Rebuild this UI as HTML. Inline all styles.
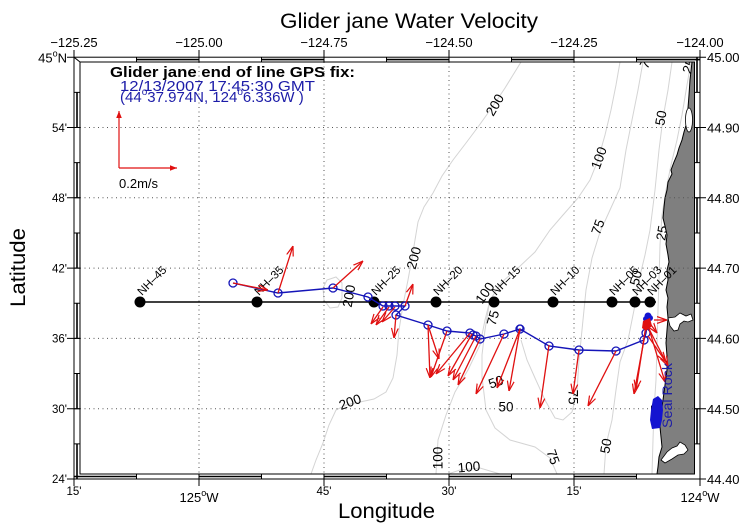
<!DOCTYPE html>
<html>
<head>
<meta charset="utf-8">
<style>
html,body{margin:0;padding:0;background:#fff;}
svg{display:block;}
text{font-family:"Liberation Sans",Arial,Helvetica,sans-serif;}
</style>
</head>
<body>
<svg width="750" height="528" viewBox="0 0 750 528" xmlns="http://www.w3.org/2000/svg">
<defs>
  <clipPath id="map"><rect x="80" y="62" width="614.5" height="412"/></clipPath>
  <marker id="ah" viewBox="0 0 10 8" refX="10" refY="4" markerWidth="10" markerHeight="8" markerUnits="userSpaceOnUse" orient="auto">
    <path d="M0,0.6 L10,4 L0,7.4" fill="none" stroke="#e01010" stroke-width="1.2"/>
  </marker>
  <marker id="ahs" viewBox="0 0 10 8" refX="10" refY="4" markerWidth="7" markerHeight="6" markerUnits="userSpaceOnUse" orient="auto">
    <path d="M0,0 L10,4 L0,8 Z" fill="#e01010"/>
  </marker>
</defs>
<rect width="750" height="528" fill="#fff"/>

<!-- Title -->
<text x="280" y="28" font-size="21" textLength="258" lengthAdjust="spacingAndGlyphs">Glider jane Water Velocity</text>

<g clip-path="url(#map)">
  <!-- contours -->
  <g fill="none" stroke="#d4d4d4" stroke-width="1">
    <path d="M521,62 L513,75 L505,88 L497,100 L488,113 L478,127 L466,143 L453,160 L442,176 L433,193 L424,207 L418,222 L415,240 L412,258 L408,280 L403,305 L399,330 L397,355 L393,378 L386,392 L374,399 L360,402 L346,405 L336,410 L329,425 L323,443 L316,460 L311,474"/>
    <path d="M327,280 L336,277 L342,283 L342,298 L338,307 L330,308 L324,300 L323,288 Z"/>
    <path d="M620,62 L616,85 L611,110 L605,135 L598,160 L590,180 L578,198 L563,215 L550,230 L535,252 L518,268 L502,282 L490,300 L485,320 L480,345 L468,370 L455,392 L446,415 L438,440 L436,474"/>
    <path d="M448,474 L460,470 L480,468 L500,474"/>
    <path d="M643,62 L638,90 L632,120 L626,150 L620,188 L610,210 L600,232 L592,258 L586,290 L582,330 L579,360 L577,392 L572,412 L563,420 L555,418 L545,400 L535,378 L527,360 L521,340"/>
    <path d="M489,305 L485,330 L482,355 L482,377 L486,410 L495,428 L510,440 L535,447 L550,458 L557,474"/>
    <path d="M672,62 L668,90 L663,118 L659,150 L655,190 L650,230 L645,255 L639,280 L634,310 L628,340 L620,362 L616,390 L612,420 L606,445 L604,474"/>
    <path d="M691,62 L687,85 L682,115 L677,140 L671,165 L666,190 L662,215 L660,245 L659,280 L658,310 L657,345 L656,380 L654,410 L653,440 L652,474"/>
  </g>
  <!-- contour labels -->
  <g font-size="13.5" fill="#000" text-anchor="middle" dominant-baseline="central">
    <text transform="translate(495,105) rotate(-60)">200</text>
    <text transform="translate(414,258) rotate(-75)">200</text>
    <text transform="translate(349,296) rotate(-80)">200</text>
    <text transform="translate(350,402) rotate(-20)">200</text>
    <text transform="translate(599,158) rotate(-70)">100</text>
    <text transform="translate(485,293) rotate(-55)">100</text>
    <text transform="translate(438,458) rotate(-90)">100</text>
    <text transform="translate(469,467) rotate(-5)">100</text>
    <text transform="translate(598,227) rotate(-70)">75</text>
    <text transform="translate(493,318) rotate(-75)">75</text>
    <text transform="translate(573,397) rotate(90)">75</text>
    <text transform="translate(553,457) rotate(70)">75</text>
    <text transform="translate(647,61) rotate(-60)">75</text>
    <text transform="translate(661,118) rotate(-80)">50</text>
    <text transform="translate(636,278) rotate(-75)">50</text>
    <text transform="translate(496,382) rotate(-20)">50</text>
    <text transform="translate(506,407)">50</text>
    <text transform="translate(606,446) rotate(-80)">50</text>
    <text transform="translate(662,233) rotate(-80)">25</text>
    <text transform="translate(689,66) rotate(-70)">25</text>
    <text transform="translate(656,412) rotate(-90)">25</text>
  </g>

  <!-- land -->
  <path d="M692,62 L690,80 L689,95 L688,108 L687,122 L684,132 L682,140 L679,148 L677,155 L674,162 L671,170 L672,174 L668,182 L667,190 L665,198 L664,207 L663,218 L665,226 L667,235 L666,244 L668,255 L669,262 L667,270 L668,280 L666,290 L668,298 L667,307 L668,318 L667,330 L666,343 L667,356 L667,370 L665,385 L663,400 L661,414 L660,427 L661,437 L662,447 L659,457 L658,467 L657,474 L695,474 L695,62 Z" fill="#7f7f7f" stroke="#000" stroke-width="1"/>
  <ellipse cx="689" cy="120" rx="3.5" ry="12" fill="#fff" stroke="#000" stroke-width="0.8"/>
  <path d="M668,318 L675,317 L680,313 L686,316 L691,314 L693,320 L688,322 L684,321 L680,324 L678,330 L674,331 L670,326 Z" fill="#fff" stroke="#000" stroke-width="0.8"/>
  <path d="M661,460 L667,452 L672,448 L677,446 L680,442 L685,445 L688,450 L684,454 L678,455 L672,459 L665,463 Z" fill="#fff" stroke="#000" stroke-width="0.8"/>
</g>

<!-- grid -->
<g stroke="#555" stroke-width="1" stroke-dasharray="1,3.5" fill="none">
  <line x1="199" y1="62" x2="199" y2="474"/>
  <line x1="324" y1="62" x2="324" y2="474"/>
  <line x1="449" y1="62" x2="449" y2="474"/>
  <line x1="574" y1="62" x2="574" y2="474"/>
  <line x1="80" y1="127.5" x2="694" y2="127.5"/>
  <line x1="80" y1="197.8" x2="694" y2="197.8"/>
  <line x1="80" y1="268.1" x2="694" y2="268.1"/>
  <line x1="80" y1="338.4" x2="694" y2="338.4"/>
  <line x1="80" y1="408.7" x2="694" y2="408.7"/>
</g>

<!-- header text -->
<text x="110" y="77" font-size="14.5" font-weight="bold" textLength="245" lengthAdjust="spacingAndGlyphs">Glider jane end of line GPS fix:</text>
<text x="120" y="91" font-size="15" fill="#1c1ca8" textLength="195" lengthAdjust="spacingAndGlyphs">12/13/2007 17:45:30 GMT</text>
<text x="120" y="102" font-size="15" fill="#1c1ca8">(44<tspan font-size="10" dy="-7">o</tspan><tspan dy="7">37.974N, 124</tspan><tspan font-size="10" dy="-7">o</tspan><tspan dy="7">6.336W )</tspan></text>

<!-- scale arrows -->
<line x1="119" y1="168" x2="119" y2="111" stroke="#e01010" stroke-width="1.2" marker-end="url(#ahs)"/>
<line x1="119" y1="168" x2="177" y2="168" stroke="#e01010" stroke-width="1.2" marker-end="url(#ahs)"/>
<text x="119" y="188" font-size="13">0.2m/s</text>

<!-- NH line -->
<line x1="140" y1="302" x2="656" y2="302" stroke="#000" stroke-width="1.5"/>
<g fill="#000">
  <circle cx="140" cy="302" r="5.5"/>
  <circle cx="257" cy="302" r="5.5"/>
  <circle cx="374" cy="302" r="5.5"/>
  <circle cx="436" cy="302" r="5.5"/>
  <circle cx="494" cy="302" r="5.5"/>
  <circle cx="553" cy="302" r="5.5"/>
  <circle cx="612" cy="302" r="5.5"/>
  <circle cx="635" cy="302" r="5.5"/>
  <circle cx="650" cy="302" r="5.5"/>
</g>
<g font-size="11.5" fill="#000">
  <text transform="translate(142,296) rotate(-45)">NH–45</text>
  <text transform="translate(259,296) rotate(-45)">NH–35</text>
  <text transform="translate(376,296) rotate(-45)">NH–25</text>
  <text transform="translate(438,296) rotate(-45)">NH–20</text>
  <text transform="translate(496,296) rotate(-45)">NH–15</text>
  <text transform="translate(555,296) rotate(-45)">NH–10</text>
  <text transform="translate(614,296) rotate(-45)">NH–05</text>
  <text transform="translate(637,296) rotate(-45)">NH–03</text>
  <text transform="translate(652,296) rotate(-45)">NH–01</text>
</g>

<!-- glider track -->
<polyline fill="none" stroke="#1414b8" stroke-width="1.4" points="233,283 278,293 333,288 368,297 383,306 389,306 395,306 405,306 396,315 428,325 447,331 470,333 473,335 476,336 480,339 504,334 520,329 549,346 579,350 616,351 644,340 646,333 648,318"/>
<g fill="none" stroke="#1414b8" stroke-width="1.3">
  <circle cx="233" cy="283" r="4"/><circle cx="278" cy="293" r="4"/><circle cx="333" cy="288" r="4"/>
  <circle cx="368" cy="297" r="4"/><circle cx="383" cy="306" r="4"/><circle cx="389" cy="306" r="4"/>
  <circle cx="395" cy="306" r="4"/><circle cx="405" cy="306" r="4"/><circle cx="396" cy="315" r="4"/>
  <circle cx="428" cy="325" r="4"/><circle cx="447" cy="331" r="4"/><circle cx="470" cy="333" r="4"/>
  <circle cx="473" cy="335" r="4"/><circle cx="476" cy="336" r="4"/><circle cx="480" cy="339" r="4"/>
  <circle cx="504" cy="334" r="4"/><circle cx="520" cy="329" r="4"/><circle cx="520" cy="328" r="3"/>
  <circle cx="549" cy="346" r="4"/><circle cx="579" cy="350" r="4"/><circle cx="616" cy="351" r="4"/>
  <circle cx="644" cy="340" r="4"/><circle cx="646" cy="333" r="4"/>
</g>
<g fill="#1414d0">
  <circle cx="648" cy="316" r="3.5"/><circle cx="650" cy="318" r="3"/><circle cx="646" cy="319" r="3"/>
</g>

<!-- velocity arrows -->
<g stroke="#e01010" stroke-width="1.3" fill="none" marker-end="url(#ah)">
  <line x1="233" y1="283" x2="268" y2="290"/>
  <line x1="278" y1="293" x2="293" y2="246"/>
  <line x1="333" y1="288" x2="363" y2="261"/>
  <line x1="405" y1="306" x2="413" y2="284"/>
  <line x1="396" y1="315" x2="394" y2="338"/>
  <line x1="383" y1="307" x2="371" y2="324"/>
  <line x1="389" y1="307" x2="376" y2="325"/>
  <line x1="395" y1="307" x2="382" y2="322"/>
  <line x1="428" y1="325" x2="439" y2="359"/>
  <line x1="428" y1="325" x2="430" y2="378"/>
  <line x1="447" y1="331" x2="431" y2="377"/>
  <line x1="470" y1="333" x2="436" y2="374"/>
  <line x1="472" y1="334" x2="448" y2="376"/>
  <line x1="476" y1="336" x2="453" y2="380"/>
  <line x1="480" y1="339" x2="458" y2="385"/>
  <line x1="504" y1="334" x2="476" y2="394"/>
  <line x1="520" y1="329" x2="497" y2="388"/>
  <line x1="520" y1="329" x2="509" y2="391"/>
  <line x1="549" y1="345" x2="540" y2="408"/>
  <line x1="579" y1="350" x2="573" y2="394"/>
  <line x1="616" y1="351" x2="588" y2="406"/>
  <line x1="644" y1="340" x2="634" y2="394"/>
  <line x1="646" y1="325" x2="636" y2="390"/>
  <line x1="647" y1="325" x2="668" y2="366"/>
  <line x1="647" y1="322" x2="665" y2="382"/>
  <line x1="648" y1="336" x2="666" y2="362"/>
  <line x1="654" y1="320" x2="667" y2="320"/>
  <line x1="651" y1="325" x2="657" y2="333"/>
</g>
<g fill="#e01010">
  <path d="M643,321 L650,318 L652,326 L646,331 L642,328 Z"/>
</g>

<!-- Seal Rock -->
<path d="M653,399 L658,396 L662,400 L663,410 L662,420 L660,428 L652,429 L650,420 L651,410 Z" fill="#1414d0"/>
<text transform="translate(672,428) rotate(-90)" font-size="14" fill="#1c1ca8" textLength="65" lengthAdjust="spacingAndGlyphs">Seal Rock</text>

<!-- Frame -->
<g stroke="#000" fill="none">
  <rect x="74" y="57.2" width="626" height="421.8" stroke-width="1"/>
  <rect x="80" y="62" width="614.5" height="412" stroke-width="1"/>
  <line x1="74" y1="57.2" x2="80" y2="62" stroke-width="1"/>
  <!-- dark segments -->
  <g stroke-width="1.6">
    <line x1="136.5" y1="59.6" x2="199" y2="59.6"/>
    <line x1="261.5" y1="59.6" x2="324" y2="59.6"/>
    <line x1="386.5" y1="59.6" x2="449" y2="59.6"/>
    <line x1="511.5" y1="59.6" x2="574" y2="59.6"/>
    <line x1="636.5" y1="59.6" x2="700" y2="59.6"/>
    <line x1="74" y1="476.5" x2="136.5" y2="476.5"/>
    <line x1="199" y1="476.5" x2="261.5" y2="476.5"/>
    <line x1="324" y1="476.5" x2="386.5" y2="476.5"/>
    <line x1="449" y1="476.5" x2="511.5" y2="476.5"/>
    <line x1="574" y1="476.5" x2="636.5" y2="476.5"/>
    <line x1="77" y1="92.35" x2="77" y2="127.5"/>
    <line x1="77" y1="162.65" x2="77" y2="197.8"/>
    <line x1="77" y1="232.95" x2="77" y2="268.1"/>
    <line x1="77" y1="303.25" x2="77" y2="338.4"/>
    <line x1="77" y1="373.55" x2="77" y2="408.7"/>
    <line x1="77" y1="443.85" x2="77" y2="479"/>
    <line x1="697" y1="57.2" x2="697" y2="92.35"/>
    <line x1="697" y1="127.5" x2="697" y2="162.65"/>
    <line x1="697" y1="197.8" x2="697" y2="232.95"/>
    <line x1="697" y1="268.1" x2="697" y2="303.25"/>
    <line x1="697" y1="338.4" x2="697" y2="373.55"/>
    <line x1="697" y1="408.7" x2="697" y2="443.85"/>
  </g>
  <!-- segment end caps -->
  <g stroke-width="1">
    <path d="M136.5,57 V62 M199,57 V62 M261.5,57 V62 M324,57 V62 M386.5,57 V62 M449,57 V62 M511.5,57 V62 M574,57 V62 M636.5,57 V62"/>
    <path d="M136.5,474 V479 M199,474 V479 M261.5,474 V479 M324,474 V479 M386.5,474 V479 M449,474 V479 M511.5,474 V479 M574,474 V479 M636.5,474 V479"/>
    <path d="M74,92.35 H80 M74,127.5 H80 M74,162.65 H80 M74,197.8 H80 M74,232.95 H80 M74,268.1 H80 M74,303.25 H80 M74,338.4 H80 M74,373.55 H80 M74,408.7 H80 M74,443.85 H80"/>
    <path d="M694.5,92.35 H700 M694.5,127.5 H700 M694.5,162.65 H700 M694.5,197.8 H700 M694.5,232.95 H700 M694.5,268.1 H700 M694.5,303.25 H700 M694.5,338.4 H700 M694.5,373.55 H700 M694.5,408.7 H700 M694.5,443.85 H700"/>
  </g>
  <!-- ticks -->
  <g stroke-width="1">
    <path d="M74,50 V57 M199,50 V62 M324,50 V62 M449,50 V62 M574,50 V62 M700,50 V57"/>
    <path d="M74,479 V486 M199,474 V486 M324,474 V486 M449,474 V486 M574,474 V486 M700,479 V486"/>
    <path d="M67,57.2 H74 M67,127.5 H80 M67,197.8 H80 M67,268.1 H80 M67,338.4 H80 M67,408.7 H80 M67,479 H74"/>
    <path d="M700,57.2 H706 M694.5,127.5 H706 M694.5,197.8 H706 M694.5,268.1 H706 M694.5,338.4 H706 M694.5,408.7 H706 M700,479 H706"/>
  </g>
</g>

<!-- top tick labels -->
<g font-size="13" text-anchor="middle" fill="#000">
  <text x="74" y="47">−125.25</text>
  <text x="199" y="47">−125.00</text>
  <text x="324" y="47">−124.75</text>
  <text x="449" y="47">−124.50</text>
  <text x="574" y="47">−124.25</text>
  <text x="700" y="47">−124.00</text>
</g>
<!-- right tick labels -->
<g font-size="13" fill="#000">
  <text x="707" y="62">45.00</text>
  <text x="707" y="132.5">44.90</text>
  <text x="707" y="203">44.80</text>
  <text x="707" y="273">44.70</text>
  <text x="707" y="343.5">44.60</text>
  <text x="707" y="414">44.50</text>
  <text x="707" y="484">44.40</text>
</g>
<!-- left tick labels -->
<g font-size="11.5" text-anchor="end" fill="#000">
  <text x="67" y="62.5" font-size="13">45<tspan font-size="9" dy="-6">o</tspan><tspan dy="6">N</tspan></text>
  <text x="67" y="132">54'</text>
  <text x="67" y="202">48'</text>
  <text x="67" y="272.5">42'</text>
  <text x="67" y="342.5">36'</text>
  <text x="67" y="413">30'</text>
  <text x="67" y="483">24'</text>
</g>
<!-- bottom tick labels -->
<g font-size="11.5" text-anchor="middle" fill="#000">
  <text x="74" y="495">15'</text>
  <text x="199" y="502" font-size="13">125<tspan font-size="9" dy="-6">o</tspan><tspan dy="6">W</tspan></text>
  <text x="324" y="495">45'</text>
  <text x="449" y="495">30'</text>
  <text x="574" y="495">15'</text>
  <text x="700" y="502" font-size="13">124<tspan font-size="9" dy="-6">o</tspan><tspan dy="6">W</tspan></text>
</g>

<!-- axis titles -->
<text x="338" y="518" font-size="21" textLength="97" lengthAdjust="spacingAndGlyphs">Longitude</text>
<text transform="translate(25,307) rotate(-90)" font-size="21" textLength="79" lengthAdjust="spacingAndGlyphs">Latitude</text>
</svg>
</body>
</html>
